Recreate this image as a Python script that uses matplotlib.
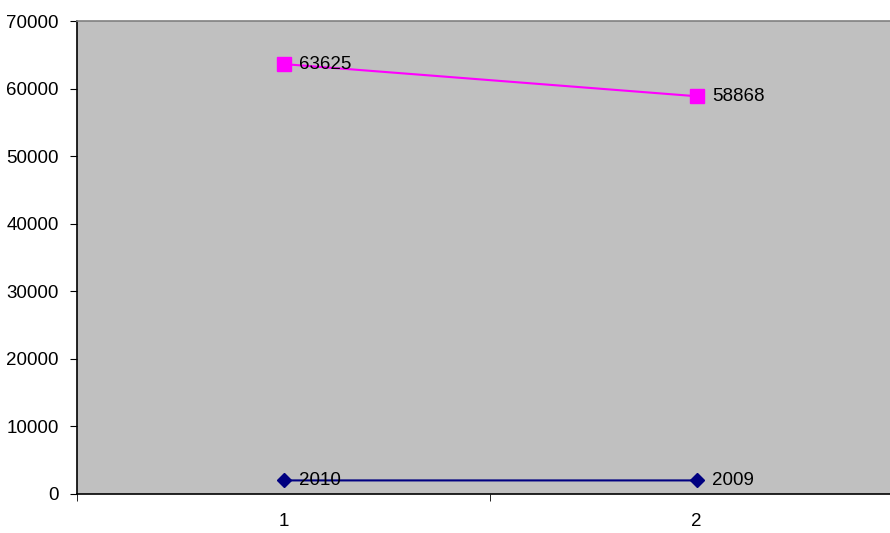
import matplotlib.pyplot as plt

plt.rcParams["font.family"] = ["Liberation Sans", "DejaVu Sans"]

categories = [1, 2]
series_low = [2010, 2009]
series_high = [63625, 58868]
y_ticks = [0, 10000, 20000, 30000, 40000, 50000, 60000, 70000]

fig = plt.figure(figsize=(8.9, 5.33), dpi=100)
# plot area runs past the right edge of the image, as in the original
ax = fig.add_axes([77 / 890, 39 / 533, 826 / 890, 473 / 533])
ax.set_facecolor("#C0C0C0")

ax.plot(categories, series_low, color="#000080", lw=1.5, marker="D", ms=7,
        markeredgecolor="#000080", markerfacecolor="#000080", zorder=3)
ax.plot(categories, series_high, color="#FF00FF", lw=1.5, marker="s", ms=9.5,
        markeredgecolor="#FF00FF", markerfacecolor="#FF00FF", zorder=3)

for x, y in zip(categories, series_low):
    ax.annotate(str(y), (x, y), xytext=(11, 0), textcoords="offset points",
                va="center", ha="left", fontsize=13.5, clip_on=False)
for x, y in zip(categories, series_high):
    ax.annotate(str(y), (x, y), xytext=(11, 0), textcoords="offset points",
                va="center", ha="left", fontsize=13.5, clip_on=False)

ax.set_xlim(0.5, 2.5)
ax.set_ylim(0, 70000)
ax.set_yticks(y_ticks)
ax.set_yticklabels([str(v) for v in y_ticks], fontsize=13.5)
ax.set_xticks(categories)
ax.set_xticklabels([str(c) for c in categories], fontsize=13.5)
ax.tick_params(axis="x", length=0, pad=14)
ax.set_xticks([0.5, 1.5, 2.5], minor=True)
ax.tick_params(axis="x", which="minor", length=5, direction="out", color="black")
ax.tick_params(axis="y", length=5, direction="out", pad=8)

ax.spines["top"].set_color("#808080")
ax.spines["right"].set_visible(False)
ax.spines["left"].set_color("black")
ax.spines["bottom"].set_color("black")
for s in ax.spines.values():
    s.set_linewidth(1.2)

fig.savefig("out.png", dpi=100)
